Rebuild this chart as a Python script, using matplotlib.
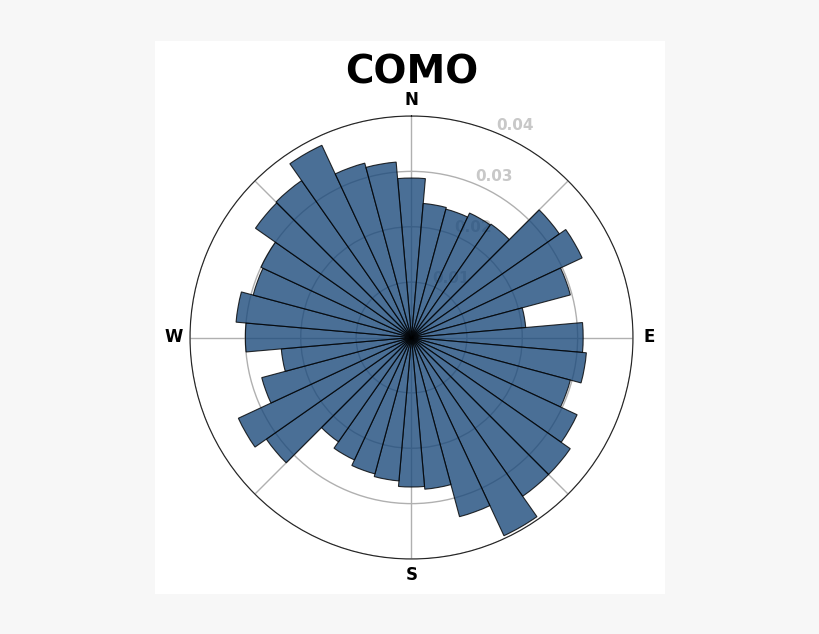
import numpy as np
import matplotlib
matplotlib.use("Agg")
import matplotlib.pyplot as plt
from matplotlib.patches import Rectangle

# bin centres in compass degrees (clockwise from N) and relative frequency
directions = list(range(0, 360, 10))
freq = [0.0288, 0.0243, 0.024, 0.0248, 0.025, 0.0326, 0.034, 0.0297, 0.0207,
        0.031, 0.0317, 0.0297, 0.033, 0.035, 0.035, 0.0395, 0.0335, 0.0275,
        0.027, 0.026, 0.0255, 0.0244, 0.023, 0.032, 0.0345, 0.028, 0.0236,
        0.030, 0.0318, 0.0296, 0.030, 0.0344, 0.0346, 0.0383, 0.0326, 0.0318]
rticks = [0.01, 0.02, 0.03, 0.04]

fig = plt.figure(figsize=(8.2, 6.34), dpi=100, facecolor="#f7f7f7")
fig.patches.append(Rectangle((155 / 820, 1 - 594 / 634), 510 / 820, 553 / 634,
                             transform=fig.transFigure, facecolor="white",
                             edgecolor="none", zorder=-10))

ax = fig.add_axes([190 / 820, 1 - 559 / 634, 443 / 820, 443 / 634], projection="polar")
ax.set_zorder(5)
ax.set_facecolor("none")
ax.set_theta_zero_location("N")
ax.set_theta_direction(-1)
ax.set_axisbelow(True)

theta = np.deg2rad(directions)
ax.bar(theta, freq, width=np.deg2rad(10), color="#1d4b7c", alpha=0.8,
       edgecolor="black", linewidth=0.8, zorder=3)

ax.set_ylim(0, 0.04)
ax.set_yticks(rticks)
ax.set_yticklabels([f"{t:.2f}" for t in rticks], color="#c8c8c8",
                   fontweight="bold", fontsize=11)
ax.set_rlabel_position(22.5)
ax.set_thetagrids(range(0, 360, 45), ["N", "", "E", "", "S", "", "W", ""],
                  fontweight="bold", fontsize=12)
ax.tick_params(axis="x", pad=1)
ax.grid(color="#b0b0b0", linewidth=1)
ax.spines["polar"].set_color("#222222")

fig.text(412 / 820, 1 - 72 / 634, "COMO", ha="center", va="center",
         fontsize=28, fontweight="bold")

fig.savefig("out.png", dpi=100, facecolor=fig.get_facecolor())
